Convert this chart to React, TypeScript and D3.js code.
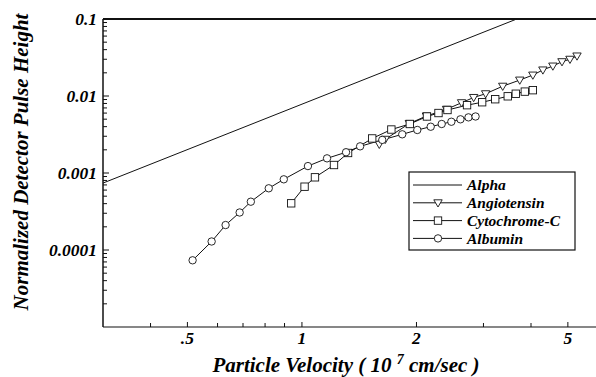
import * as d3 from "d3"

// (velocity in 10^7 cm/s, pulse height normalized)
const alphaV = [0.3, 3.67]
const alphaH = [0.00074, 0.1]

const angioV = [1.597, 1.656, 1.916, 2.124, 2.399, 2.628, 2.827, 3.04, 3.371, 3.737, 4.045, 4.298, 4.566, 4.825, 5.064, 5.284]
const angioH = [0.00236, 0.00274, 0.0044, 0.0055, 0.00672, 0.00818, 0.00957, 0.0107, 0.0134, 0.0161, 0.0187, 0.0218, 0.0245, 0.0279, 0.03, 0.0331]

const cytoV = [0.937, 1.016, 1.082, 1.214, 1.322, 1.53, 1.718, 1.921, 2.131, 2.285, 2.413, 2.716, 2.976, 3.221, 3.475, 3.648, 3.853, 4.045]
const cytoH = [0.000404, 0.000664, 0.000879, 0.00127, 0.00182, 0.00281, 0.00367, 0.00433, 0.00542, 0.00601, 0.00658, 0.0076, 0.0083, 0.00908, 0.00991, 0.0107, 0.0114, 0.0119]

const albV = [0.516, 0.579, 0.63, 0.686, 0.734, 0.818, 0.896, 1.037, 1.164, 1.306, 1.422, 1.626, 1.835, 2.01, 2.18, 2.33, 2.47, 2.61, 2.74, 2.86]
const albH = [0.0000735, 0.000129, 0.000211, 0.000307, 0.000424, 0.000633, 0.000828, 0.00123, 0.00155, 0.00186, 0.00222, 0.00269, 0.00318, 0.00362, 0.00399, 0.00433, 0.00463, 0.00498, 0.00528, 0.00542]

const xMajor = [0.5, 1, 2, 5]
const xMajorLabels = [".5", "1", "2", "5"]
const xMinor = [0.4, 0.6, 0.7, 0.8, 0.9, 3, 4]
const yMajor = [0.1, 0.01, 0.001, 0.0001]
const yMajorLabels = ["0.1", "0.01", "0.001", "0.0001"]

const legendNames = ["Alpha", "Angiotensin", "Cytochrome-C", "Albumin"]
const legendMarks = ["none", "tri", "square", "circle"]

const FONT = "'Liberation Serif', 'Times New Roman', serif"
const L = 103, R = 598, T = 19, B = 327

function Marker({ kind, x, y }: { kind: string; x: number; y: number }) {
  const st = { fill: "#fff", stroke: "#111", strokeWidth: 0.9 }
  if (kind === "circle") return <circle cx={x} cy={y} r={3.7} {...st} />
  if (kind === "square") return <rect x={x - 3.7} y={y - 3.7} width={7.4} height={7.4} {...st} />
  if (kind === "tri") return <path d={`M${x - 4.2},${y - 3} L${x + 4.2},${y - 3} L${x},${y + 4.2} Z`} {...st} />
  return null
}

export default function App() {
  const x = d3.scaleLog().domain([0.3, 6]).range([L, R])
  const y = d3.scaleLog().domain([1e-5, 0.1]).range([B, T])

  const yMinor: number[] = []
  for (const dec of [1e-5, 1e-4, 1e-3, 1e-2]) for (let k = 2; k <= 9; k++) yMinor.push(dec * k)

  const line = (vs: number[], hs: number[]) =>
    d3.line<number>().x((_, i) => x(vs[i])).y((_, i) => y(hs[i]))(vs.map((_, i) => i)) || ""

  const series = [
    { v: angioV, h: angioH, m: "tri" },
    { v: cytoV, h: cytoH, m: "square" },
    { v: albV, h: albH, m: "circle" },
  ]

  const legX = 409, legY = 172, legW = 166, legH = 78

  return (
    <svg width={596} height={377} style={{ position: "absolute", left: 0, top: 0, background: "#fff" }}
      fontFamily={FONT} fontWeight="bold" fontStyle="italic">
      <defs>
        <clipPath id="plot"><rect x={L} y={T} width={R - L} height={B - T} /></clipPath>
      </defs>

      {/* frame */}
      <line x1={L} y1={T} x2={596} y2={T} stroke="#111" strokeWidth={2} />
      <line x1={L} y1={T} x2={L} y2={B} stroke="#111" strokeWidth={1.5} />
      <line x1={L} y1={B} x2={596} y2={B} stroke="#111" strokeWidth={1.2} />

      {/* y ticks */}
      {yMajor.map((d, i) => (
        <g key={"ym" + i}>
          <line x1={L} x2={L + 6} y1={y(d)} y2={y(d)} stroke="#111" strokeWidth={1} />
          <text x={97} y={y(d)} dy="0.35em" textAnchor="end" fontSize={17.5}>{yMajorLabels[i]}</text>
        </g>
      ))}
      {yMinor.map((d, i) => (
        <line key={"yn" + i} x1={L} x2={L + 4} y1={y(d)} y2={y(d)} stroke="#111" strokeWidth={1} />
      ))}

      {/* x ticks */}
      {xMajor.map((d, i) => (
        <g key={"xm" + i}>
          <line x1={x(d)} x2={x(d)} y1={B} y2={B - 5} stroke="#111" strokeWidth={1} />
          <text x={x(d)} y={344} textAnchor="middle" fontSize={17.5}>{xMajorLabels[i]}</text>
        </g>
      ))}
      {xMinor.map((d, i) => (
        <line key={"xn" + i} x1={x(d)} x2={x(d)} y1={B} y2={B - 4} stroke="#111" strokeWidth={1} />
      ))}

      {/* axis titles */}
      <text transform="translate(28,162) rotate(-90)" textAnchor="middle" fontSize={21}>
        Normalized Detector Pulse Height
      </text>
      <text x={346} y={372} textAnchor="middle" fontSize={21}>
        Particle Velocity ( 10 <tspan dy={-8} fontSize={14}>7</tspan><tspan dy={8}> cm/sec )</tspan>
      </text>

      {/* data */}
      <g clipPath="url(#plot)">
        <path d={line(alphaV, alphaH)} fill="none" stroke="#111" strokeWidth={1} />
        {series.map((s, si) => (
          <path key={"l" + si} d={line(s.v, s.h)} fill="none" stroke="#111" strokeWidth={1} />
        ))}
        {series.map((s, si) =>
          s.v.map((v, i) => <Marker key={si + "-" + i} kind={s.m} x={x(v)} y={y(s.h[i])} />)
        )}
      </g>

      {/* legend */}
      <rect x={legX} y={legY} width={legW} height={legH} fill="#fff" stroke="#111" strokeWidth={1.2} />
      {legendNames.map((n, i) => {
        const ly = 185 + i * 17.8
        return (
          <g key={n}>
            <line x1={413} x2={462} y1={ly} y2={ly} stroke="#111" strokeWidth={1} />
            <Marker kind={legendMarks[i]} x={438} y={ly} />
            <text x={467} y={ly} dy="0.35em" fontSize={15.5}>{n}</text>
          </g>
        )
      })}
    </svg>
  )
}
